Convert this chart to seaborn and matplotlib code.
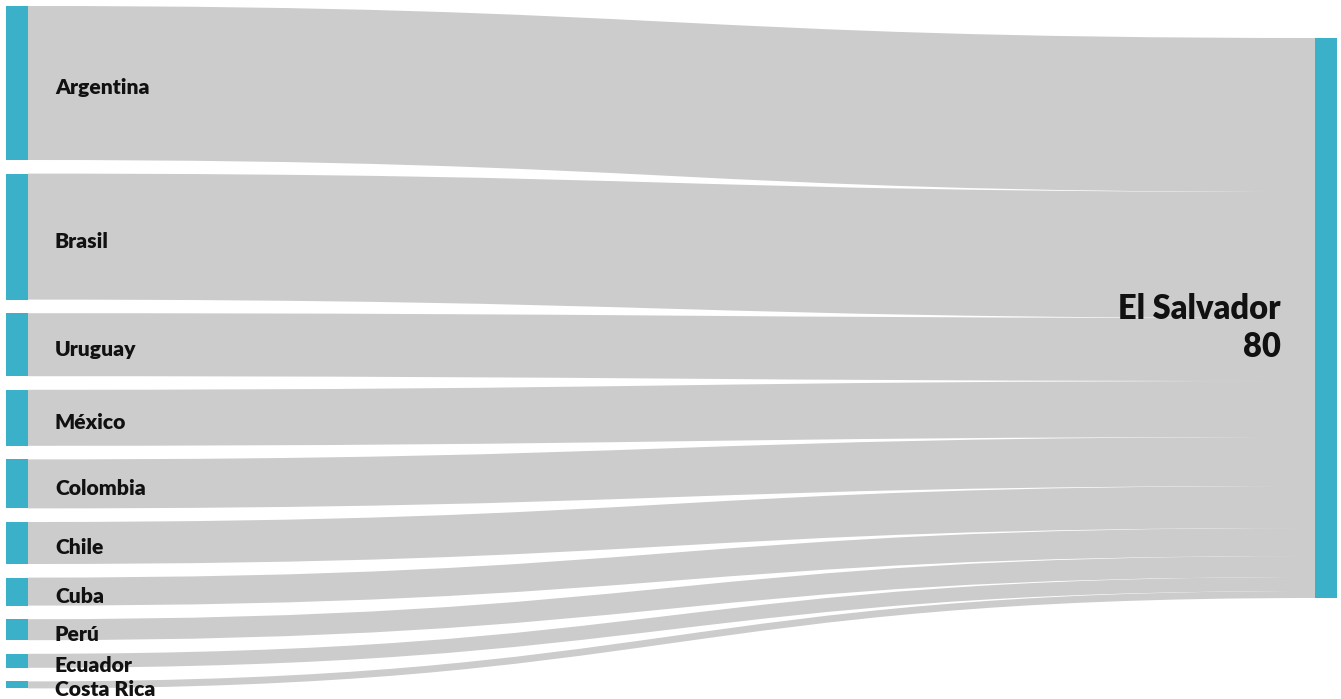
import matplotlib
matplotlib.use("Agg")
import matplotlib.pyplot as plt
from matplotlib.path import Path
from matplotlib.patches import PathPatch, Rectangle
import seaborn as sns

# datos: países de origen -> El Salvador
paises = ["Argentina", "Brasil", "Uruguay", "México", "Colombia",
          "Chile", "Cuba", "Perú", "Ecuador", "Costa Rica"]
valores = [22, 18, 9, 8, 7, 6, 4, 3, 2, 1]
destino = "El Salvador"

sns.set_theme(style="white")
plt.rcParams["font.family"] = ["Lato", "DejaVu Sans"]

COLOR_NODO = "#3bb1c9"
COLOR_LINK = "#cccccc"

W, H = 1341, 699
fig = plt.figure(figsize=(W / 100, H / 100), dpi=100)
ax = fig.add_axes([0, 0, 1, 1])
ax.set_xlim(0, W)
ax.set_ylim(H, 0)
ax.axis("off")

escala = 7.0      # px por unidad
hueco = 13.6      # espacio entre nodos izquierdos
x_izq, ancho = 6, 22
x_der = 1315
y_izq0 = 6
y_der0 = 38

total = sum(valores)

# nodo destino
ax.add_patch(Rectangle((x_der, y_der0), ancho, total * escala,
                       facecolor=COLOR_NODO, edgecolor="none", zorder=3))

y = y_izq0
y_dest = y_der0
x0, x1 = x_izq + ancho, x_der
xm = (x0 + x1) / 2
for pais, v in zip(paises, valores):
    h = v * escala
    # enlace
    verts = [(x0, y), (xm, y), (xm, y_dest), (x1, y_dest),
             (x1, y_dest + h),
             (xm, y_dest + h), (xm, y + h), (x0, y + h),
             (x0, y)]
    codes = [Path.MOVETO, Path.CURVE4, Path.CURVE4, Path.CURVE4,
             Path.LINETO,
             Path.CURVE4, Path.CURVE4, Path.CURVE4,
             Path.CLOSEPOLY]
    ax.add_patch(PathPatch(Path(verts, codes), facecolor=COLOR_LINK,
                           edgecolor="none", zorder=1))
    # nodo origen
    ax.add_patch(Rectangle((x_izq, y), ancho, h, facecolor=COLOR_NODO,
                           edgecolor="none", zorder=3))
    ax.text(55, y + h / 2 + 4.5, pais, ha="left", va="center", fontsize=15.2,
            fontweight="heavy", color="#111111", zorder=4)
    y += h + hueco
    y_dest += h

ax.text(1281, y_der0 + total * escala / 2 + 10, f"{destino}\n{total}",
        ha="right", va="center", fontsize=23.5, fontweight="heavy",
        color="#111111", linespacing=1.24, zorder=4, multialignment="right")

fig.savefig("out.png", dpi=100)
